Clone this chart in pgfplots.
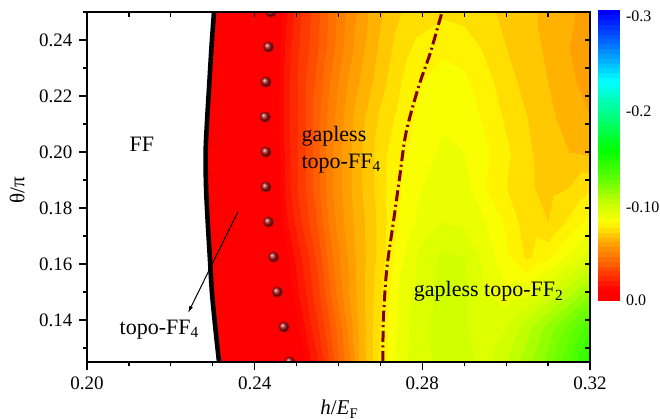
\documentclass[border=0pt]{standalone}
\usepackage{fontspec}
\setmainfont{Liberation Serif}
\usepackage{pgfplots}
\usepackage{pgfplotstable}
\pgfplotsset{compat=1.18}
\usetikzlibrary{arrows.meta}
\definecolor{dashred}{RGB}{128,0,0}
\definecolor{sphere}{RGB}{165,15,15}
\pgfplotsset{colormap={origin}{rgb255(0pt)=(0,0,255) rgb255(30pt)=(0,100,255) rgb255(72pt)=(0,255,255) rgb255(145pt)=(0,255,0) rgb255(182pt)=(120,255,0) rgb255(200pt)=(200,255,0) rgb255(221pt)=(255,255,0) rgb255(242pt)=(255,165,0) rgb255(263pt)=(255,100,0) rgb255(280pt)=(255,40,0) rgb255(292pt)=(255,0,0) rgb255(300pt)=(255,0,0)}}
\begin{document}
\pgfplotstableread{
x y v
0.2312 0.125 -0.001
0.235 0.125 -0.001
0.24 0.125 -0.001
0.2425 0.125 -0.001
0.245 0.125 -0.001
0.2475 0.125 -0.002
0.25 0.125 -0.004
0.2525 0.125 -0.012
0.255 0.125 -0.020
0.2575 0.125 -0.029
0.26 0.125 -0.039
0.2625 0.125 -0.049
0.265 0.125 -0.060
0.2675 0.125 -0.068
0.27 0.125 -0.076
0.275 0.125 -0.089
0.28 0.125 -0.093
0.285 0.125 -0.097
0.29 0.125 -0.097
0.295 0.125 -0.093
0.30 0.125 -0.100
0.305 0.125 -0.108
0.31 0.125 -0.117
0.315 0.125 -0.130
0.32 0.125 -0.145
0.2303 0.1375 -0.001
0.235 0.1375 -0.001
0.24 0.1375 -0.001
0.2425 0.1375 -0.001
0.245 0.1375 -0.001
0.2475 0.1375 -0.002
0.25 0.1375 -0.008
0.2525 0.1375 -0.017
0.255 0.1375 -0.025
0.2575 0.1375 -0.033
0.26 0.1375 -0.042
0.2625 0.1375 -0.052
0.265 0.1375 -0.061
0.2675 0.1375 -0.068
0.27 0.1375 -0.075
0.275 0.1375 -0.088
0.28 0.1375 -0.094
0.285 0.1375 -0.097
0.29 0.1375 -0.096
0.295 0.1375 -0.090
0.30 0.1375 -0.095
0.305 0.1375 -0.103
0.31 0.1375 -0.112
0.315 0.1375 -0.122
0.32 0.1375 -0.133
0.2295 0.15 -0.001
0.235 0.15 -0.001
0.24 0.15 -0.001
0.2425 0.15 -0.001
0.245 0.15 -0.001
0.2475 0.15 -0.005
0.25 0.15 -0.014
0.2525 0.15 -0.021
0.255 0.15 -0.029
0.2575 0.15 -0.038
0.26 0.15 -0.047
0.2625 0.15 -0.055
0.265 0.15 -0.062
0.2675 0.15 -0.068
0.27 0.15 -0.074
0.275 0.15 -0.087
0.28 0.15 -0.093
0.285 0.15 -0.097
0.29 0.15 -0.096
0.295 0.15 -0.090
0.30 0.15 -0.086
0.305 0.15 -0.088
0.31 0.15 -0.095
0.315 0.15 -0.103
0.32 0.15 -0.112
0.2290 0.1625 -0.001
0.235 0.1625 -0.001
0.24 0.1625 -0.001
0.2425 0.1625 -0.001
0.245 0.1625 -0.002
0.2475 0.1625 -0.008
0.25 0.1625 -0.017
0.2525 0.1625 -0.024
0.255 0.1625 -0.032
0.2575 0.1625 -0.041
0.26 0.1625 -0.049
0.2625 0.1625 -0.056
0.265 0.1625 -0.062
0.2675 0.1625 -0.067
0.27 0.1625 -0.072
0.275 0.1625 -0.084
0.28 0.1625 -0.092
0.285 0.1625 -0.096
0.29 0.1625 -0.095
0.295 0.1625 -0.088
0.30 0.1625 -0.081
0.305 0.1625 -0.074
0.31 0.1625 -0.079
0.315 0.1625 -0.086
0.32 0.1625 -0.093
0.2285 0.175 -0.001
0.235 0.175 -0.001
0.24 0.175 -0.001
0.2425 0.175 -0.001
0.245 0.175 -0.004
0.2475 0.175 -0.014
0.25 0.175 -0.022
0.2525 0.175 -0.029
0.255 0.175 -0.036
0.2575 0.175 -0.045
0.26 0.175 -0.052
0.2625 0.175 -0.058
0.265 0.175 -0.063
0.2675 0.175 -0.067
0.27 0.175 -0.072
0.275 0.175 -0.081
0.28 0.175 -0.087
0.285 0.175 -0.090
0.29 0.175 -0.089
0.295 0.175 -0.085
0.30 0.175 -0.079
0.305 0.175 -0.072
0.31 0.175 -0.070
0.315 0.175 -0.076
0.32 0.175 -0.082
0.2281 0.1875 -0.001
0.235 0.1875 -0.001
0.24 0.1875 -0.001
0.2425 0.1875 -0.001
0.245 0.1875 -0.006
0.2475 0.1875 -0.017
0.25 0.1875 -0.025
0.2525 0.1875 -0.031
0.255 0.1875 -0.039
0.2575 0.1875 -0.047
0.26 0.1875 -0.053
0.2625 0.1875 -0.059
0.265 0.1875 -0.064
0.2675 0.1875 -0.068
0.27 0.1875 -0.073
0.275 0.1875 -0.080
0.28 0.1875 -0.085
0.285 0.1875 -0.088
0.29 0.1875 -0.087
0.295 0.1875 -0.080
0.30 0.1875 -0.075
0.305 0.1875 -0.071
0.31 0.1875 -0.068
0.315 0.1875 -0.070
0.32 0.1875 -0.074
0.2280 0.2 -0.001
0.235 0.2 -0.001
0.24 0.2 -0.001
0.2425 0.2 -0.001
0.245 0.2 -0.006
0.2475 0.2 -0.017
0.25 0.2 -0.025
0.2525 0.2 -0.031
0.255 0.2 -0.039
0.2575 0.2 -0.047
0.26 0.2 -0.053
0.2625 0.2 -0.059
0.265 0.2 -0.064
0.2675 0.2 -0.068
0.27 0.2 -0.073
0.275 0.2 -0.079
0.28 0.2 -0.083
0.285 0.2 -0.086
0.29 0.2 -0.085
0.295 0.2 -0.081
0.30 0.2 -0.076
0.305 0.2 -0.071
0.31 0.2 -0.067
0.315 0.2 -0.065
0.32 0.2 -0.064
0.2284 0.2125 -0.001
0.235 0.2125 -0.001
0.24 0.2125 -0.001
0.2425 0.2125 -0.001
0.245 0.2125 -0.007
0.2475 0.2125 -0.018
0.25 0.2125 -0.025
0.2525 0.2125 -0.031
0.255 0.2125 -0.039
0.2575 0.2125 -0.046
0.26 0.2125 -0.052
0.2625 0.2125 -0.058
0.265 0.2125 -0.063
0.2675 0.2125 -0.067
0.27 0.2125 -0.071
0.275 0.2125 -0.077
0.28 0.2125 -0.082
0.285 0.2125 -0.084
0.29 0.2125 -0.083
0.295 0.2125 -0.079
0.30 0.2125 -0.074
0.305 0.2125 -0.070
0.31 0.2125 -0.066
0.315 0.2125 -0.063
0.32 0.2125 -0.060
0.2289 0.225 -0.001
0.235 0.225 -0.001
0.24 0.225 -0.001
0.2425 0.225 -0.001
0.245 0.225 -0.007
0.2475 0.225 -0.018
0.25 0.225 -0.025
0.2525 0.225 -0.031
0.255 0.225 -0.037
0.2575 0.225 -0.044
0.26 0.225 -0.050
0.2625 0.225 -0.056
0.265 0.225 -0.060
0.2675 0.225 -0.064
0.27 0.225 -0.068
0.275 0.225 -0.075
0.28 0.225 -0.080
0.285 0.225 -0.082
0.29 0.225 -0.081
0.295 0.225 -0.077
0.30 0.225 -0.072
0.305 0.225 -0.068
0.31 0.225 -0.065
0.315 0.225 -0.061
0.32 0.225 -0.058
0.2294 0.2375 -0.001
0.235 0.2375 -0.001
0.24 0.2375 -0.001
0.2425 0.2375 -0.001
0.245 0.2375 -0.005
0.2475 0.2375 -0.017
0.25 0.2375 -0.024
0.2525 0.2375 -0.029
0.255 0.2375 -0.035
0.2575 0.2375 -0.041
0.26 0.2375 -0.047
0.2625 0.2375 -0.053
0.265 0.2375 -0.058
0.2675 0.2375 -0.062
0.27 0.2375 -0.066
0.275 0.2375 -0.073
0.28 0.2375 -0.077
0.285 0.2375 -0.079
0.29 0.2375 -0.078
0.295 0.2375 -0.074
0.30 0.2375 -0.070
0.305 0.2375 -0.067
0.31 0.2375 -0.064
0.315 0.2375 -0.060
0.32 0.2375 -0.057
0.2300 0.25 -0.001
0.235 0.25 -0.001
0.24 0.25 -0.001
0.2425 0.25 -0.001
0.245 0.25 -0.003
0.2475 0.25 -0.014
0.25 0.25 -0.023
0.2525 0.25 -0.028
0.255 0.25 -0.034
0.2575 0.25 -0.040
0.26 0.25 -0.046
0.2625 0.25 -0.052
0.265 0.25 -0.056
0.2675 0.25 -0.061
0.27 0.25 -0.064
0.275 0.25 -0.070
0.28 0.25 -0.072
0.285 0.25 -0.074
0.29 0.25 -0.073
0.295 0.25 -0.071
0.30 0.25 -0.069
0.305 0.25 -0.066
0.31 0.25 -0.064
0.315 0.25 -0.061
0.32 0.25 -0.057
}\field
\begin{tikzpicture}
\useasboundingbox (0,0) rectangle (330bp,210bp);
\begin{axis}[
  at={(43.5bp,29bp)}, anchor=south west,
  scale only axis, width=251.5bp, height=175bp,
  xmin=0.2, xmax=0.32, ymin=0.125, ymax=0.25,
  xtick={0.20,0.24,0.28,0.32},
  minor xtick={0.21,0.22,0.23,0.25,0.26,0.27,0.29,0.30,0.31},
  ytick={0.14,0.16,0.18,0.20,0.22,0.24},
  minor ytick={0.13,0.15,0.17,0.19,0.21,0.23,0.25},
  tick align=outside, xtick pos=left, ytick pos=left,
  major tick length=3.75bp, minor tick length=2.2bp,
  tick style={black, line width=0.6bp},
  axis line style={black, line width=1bp},
  xticklabel style={/pgf/number format/fixed, /pgf/number format/fixed zerofill, /pgf/number format/precision=2},
  yticklabel style={/pgf/number format/fixed, /pgf/number format/fixed zerofill, /pgf/number format/precision=2},
  /pgf/number format/assume math mode=true,
  tick label style={font=\fontsize{9.5bp}{11bp}\selectfont},
  xlabel={\textit{h}/\textit{E}\textsubscript{F}},
  ylabel={θ/π},
  label style={font=\fontsize{10.5bp}{12bp}\selectfont},
  xlabel style={at={(axis description cs:0.502,-0.151)}, anchor=base},
  ylabel style={at={(axis description cs:-0.139,0.491)}, anchor=center},
  point meta min=-0.3, point meta max=0,
  colormap name=origin,
  axis on top,
  clip mode=individual,
  clip marker paths=true,
]
\addplot[contour filled={number=60}, point meta=explicit, mesh/cols=25, mesh/rows=11]
  table[x=x, y=y, meta=v]{\field};
\addplot[black, line width=2.3bp, smooth] coordinates {
  (0.2315,0.125) (0.2306,0.1375) (0.2298,0.15) (0.2293,0.1625) (0.2288,0.175)
  (0.2284,0.1875) (0.2283,0.2) (0.2287,0.2125) (0.2292,0.225) (0.2297,0.2375) (0.2303,0.25)};
\addplot[dashred, line width=1.5bp, dash pattern=on 5.5bp off 1.8bp on 1bp off 1.8bp, smooth] coordinates {
  (0.2706,0.125) (0.2707,0.14) (0.2715,0.158) (0.2731,0.175) (0.2745,0.19)
  (0.2761,0.2068) (0.2791,0.2233) (0.2819,0.2354) (0.2847,0.25)};
\addplot[only marks, mark=ball, mark size=2.6bp, ball color=sphere, color=sphere] coordinates {
  (0.2439,0.25) (0.2433,0.2375) (0.2427,0.225) (0.2425,0.2125) (0.2427,0.2)
  (0.2427,0.1875) (0.2433,0.175) (0.2445,0.1625) (0.2454,0.15) (0.2470,0.1375) (0.2484,0.125)};
\draw[line width=0.5bp, -{Latex[length=3.5bp, width=2bp]}] (axis cs:0.2360,0.1786) -- (axis cs:0.2241,0.1425);
\node[anchor=base west, inner sep=0pt, font=\fontsize{11bp}{13bp}\selectfont] at (axis cs:0.2101,0.2001) {FF};
\node[anchor=base west, inner sep=0pt, font=\fontsize{11bp}{13bp}\selectfont] at (axis cs:0.2077,0.1349) {topo-FF\textsubscript{4}};
\node[anchor=base west, inner sep=0pt, font=\fontsize{11bp}{13bp}\selectfont] at (axis cs:0.2511,0.2037) {gapless};
\node[anchor=base west, inner sep=0pt, font=\fontsize{11bp}{13bp}\selectfont] at (axis cs:0.2511,0.1942) {topo-FF\textsubscript{4}};
\node[anchor=base west, inner sep=0pt, font=\fontsize{11bp}{13bp}\selectfont] at (axis cs:0.2779,0.1483) {gapless topo-FF\textsubscript{2}};
\end{axis}
\begin{axis}[
  at={(43.5bp,29bp)}, anchor=south west,
  scale only axis, width=251.5bp, height=175bp,
  xmin=0.2, xmax=0.32, ymin=0.125, ymax=0.25,
  xtick={0.21,0.22,0.23,0.24,0.25,0.26,0.27,0.28,0.29,0.30,0.31},
  ytick={0.13,0.14,0.15,0.16,0.17,0.18,0.19,0.20,0.21,0.22,0.23,0.24},
  xticklabels={}, yticklabels={},
  tick align=inside, xtick pos=right, ytick pos=right,
  major tick length=2.5bp,
  tick style={black, line width=0.6bp},
  axis line style={draw=none},
]
\end{axis}
\begin{axis}[
  at={(299bp,60bp)}, anchor=south west,
  scale only axis, width=10.5bp, height=145bp,
  xmin=0, xmax=1, ymin=-0.3, ymax=0,
  y dir=reverse,
  axis line style={draw=none},
  xtick=\empty,
  ytick={-0.293,-0.195,-0.096,0},
  yticklabels={-0.3,-0.2,-0.10,0.0},
  ytick pos=right, yticklabel pos=right,
  major tick length=0pt,
  tick style={draw=none},
  tick label style={font=\fontsize{8bp}{9bp}\selectfont},
  point meta min=-0.3, point meta max=0,
  colormap name=origin,
]
\addplot[contour filled={number=60}, point meta=explicit, mesh/cols=2, mesh/rows=2]
  table[row sep=\\, x=x, y=y, meta=v]{x y v\\ 0 -0.3 -0.3\\ 1 -0.3 -0.3\\ 0 0 0\\ 1 0 0\\};
\end{axis}
\end{tikzpicture}
\end{document}
